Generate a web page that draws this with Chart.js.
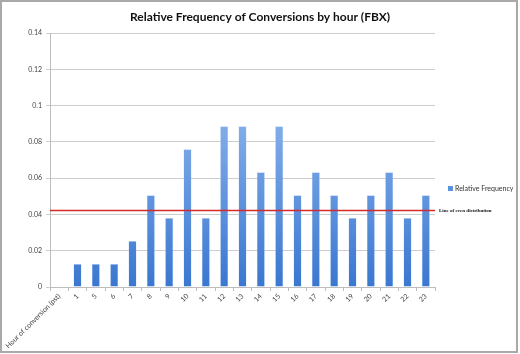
<!DOCTYPE html>
<html>
<head>
<meta charset="utf-8">
<script src="https://cdn.jsdelivr.net/npm/chart.js@4"></script>
<style>
  html, body { margin: 0; padding: 0; background: #fff; }
  #wrap { width: 520px; height: 354px; position: relative; }
</style>
</head>
<body>
<div id="wrap"><canvas id="freqChart" width="520" height="354"></canvas></div>
<script>
const chartTitle = 'Relative Frequency of Conversions by hour (FBX)';
const hours = ['Hour of conversion (pst)', '1', '5', '6', '7', '8', '9', '10', '11', '12', '13', '14', '15', '16', '17', '18', '19', '20', '21', '22', '23'];
const relFreq = [null, 0.0127, 0.0127, 0.0127, 0.0253, 0.0506, 0.038, 0.0759, 0.038, 0.0886, 0.0886, 0.0633, 0.0886, 0.0506, 0.0633, 0.0506, 0.038, 0.0506, 0.0633, 0.038, 0.0506];
const evenLine = 0.0425;
const yTicks = [0, 0.02, 0.04, 0.06, 0.08, 0.1, 0.12, 0.14];

function barGradient(ctx){
  const area = ctx.chart.chartArea;
  if(!area) return '#6aa0e8';
  const g = ctx.chart.ctx.createLinearGradient(0, area.top, 0, area.bottom);
  g.addColorStop(0, '#a9cbf7');
  g.addColorStop(1, '#3a77d0');
  return g;
}

// white background, grey frame, title centred on the whole canvas
const framePlugin = {
  id: 'frame',
  beforeDraw(chart){
    const c = chart.ctx;
    c.save();
    c.fillStyle = '#fff';
    c.fillRect(0, 0, chart.width, chart.height);
    c.fillStyle = '#111';
    c.font = 'bold 12px "Lato", sans-serif';
    c.textAlign = 'center';
    c.textBaseline = 'middle';
    c.fillText(chartTitle, chart.width / 2, 17);
    c.restore();
  },
  afterDraw(chart){
    const c = chart.ctx;
    c.save();
    c.strokeStyle = '#a9a9a9';
    c.lineWidth = 2;
    c.strokeRect(1, 1, 516, 351);
    c.restore();
  }
};

// red reference line, its label and the legend
const evenPlugin = {
  id: 'evenLine',
  afterDatasetsDraw(chart){
    const c = chart.ctx;
    const area = chart.chartArea;
    const y = Math.round(chart.scales.y.getPixelForValue(evenLine)) + 0.5;
    c.save();
    c.strokeStyle = '#d42a2a';
    c.lineWidth = 1.5;
    c.beginPath();
    c.moveTo(area.left, y);
    c.lineTo(area.right, y);
    c.stroke();

    c.fillStyle = '#111';
    c.font = 'bold 5px "Liberation Serif", serif';
    c.textBaseline = 'middle';
    c.fillText('Line of even distribution', area.right + 4, y);

    // legend
    c.fillStyle = '#5b93e0';
    c.fillRect(448, 186, 5, 5);
    c.fillStyle = '#333';
    c.font = '7px "Lato", sans-serif';
    c.fillText('Relative Frequency', 455, 189);
    c.restore();
  }
};

new Chart(document.getElementById('freqChart'), {
  type: 'bar',
  data: {
    labels: hours,
    datasets: [{
      label: 'Relative Frequency',
      data: relFreq,
      backgroundColor: barGradient,
      borderColor: 'rgba(190,215,250,0.9)',
      borderWidth: 0.5,
      barPercentage: 0.44,
      categoryPercentage: 1
    }]
  },
  options: {
    responsive: false,
    animation: false,
    layout: { padding: { left: 0, right: 85, top: 33, bottom: 0 } },
    plugins: {
      legend: { display: false },
      tooltip: { enabled: false },
      title: { display: false }
    },
    scales: {
      x: {
        grid: { offset: true, drawOnChartArea: false, color: '#bdbdbd', tickLength: 4 },
        border: { color: '#bdbdbd', width: 1 },
        ticks: {
          autoSkip: false,
          maxRotation: 45,
          minRotation: 45,
          color: '#444',
          padding: 1,
          font: { family: 'Lato', size: 7 }
        },
        afterFit(scale){
          scale.height = 67;
          scale.paddingLeft = 0;
          scale.paddingRight = 0;
        }
      },
      y: {
        min: 0,
        max: 0.14,
        afterBuildTicks(scale){
          scale.ticks = yTicks.map(v => ({ value: v }));
        },
        grid: { color: '#cdcdcd', lineWidth: 1, tickLength: 4 },
        border: { color: '#bdbdbd', width: 1 },
        ticks: {
          color: '#444',
          padding: 4,
          font: { family: 'Lato', size: 7 },
          callback: v => String(Number(v.toFixed(2)))
        },
        afterFit(scale){
          scale.width = 50;
        }
      }
    }
  },
  plugins: [framePlugin, evenPlugin]
});
</script>
</body>
</html>
